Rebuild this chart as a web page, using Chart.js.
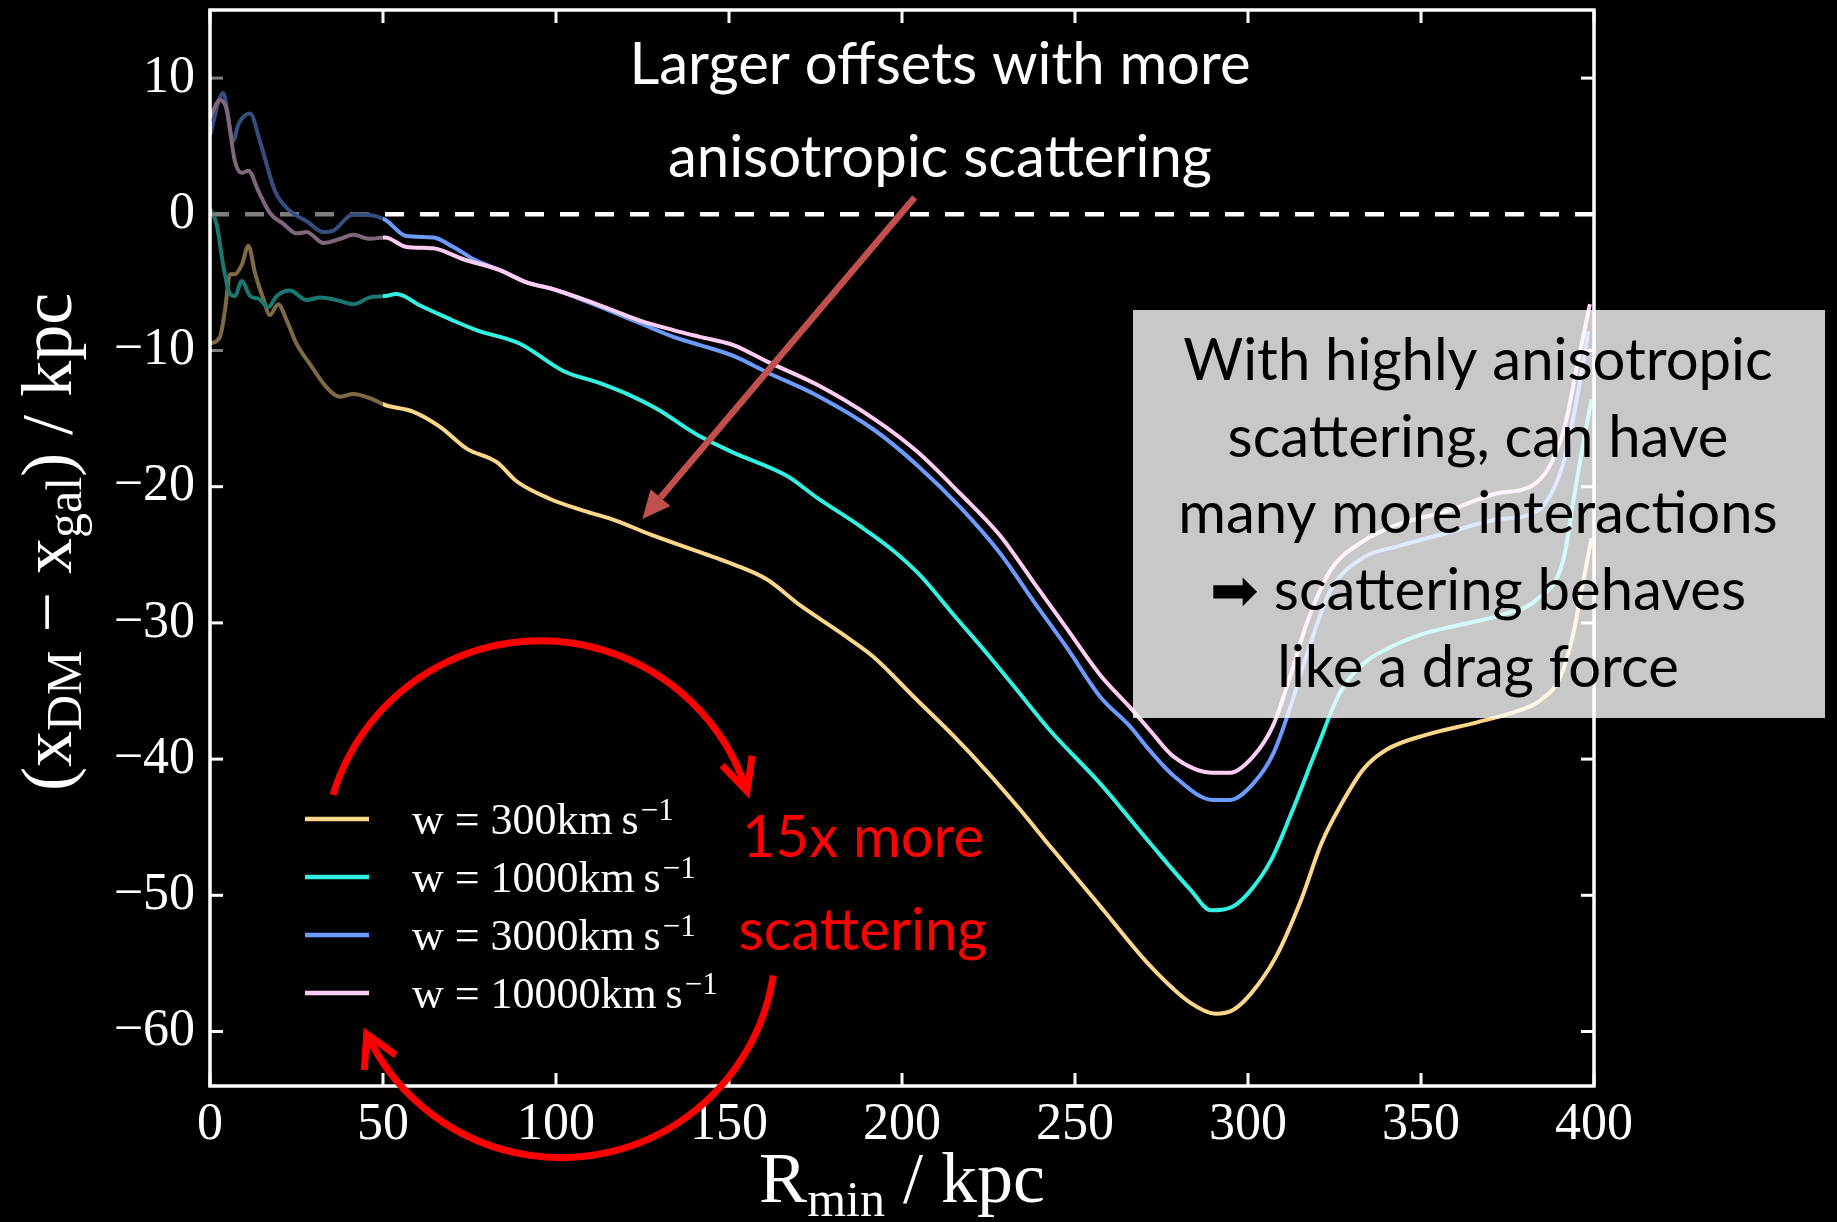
<!DOCTYPE html>
<html>
<head>
<meta charset="utf-8">
<script src="https://cdn.jsdelivr.net/npm/chart.js@4.4.1/dist/chart.umd.min.js"></script>
<style>
html,body{margin:0;padding:0;background:#000;}
canvas{display:block;}
</style>
</head>
<body>
<canvas id="c" width="1837" height="1222"></canvas>
<script>
// ---------------- data ----------------
const xTicks = [0, 50, 100, 150, 200, 250, 300, 350, 400];
const yTicks = [10, 0, -10, -20, -30, -40, -50, -60];
const zeroLevel = 0;

const seriesLabels = ['w = 300km\u2009s\u207B\u00B9', 'w = 1000km\u2009s\u207B\u00B9', 'w = 3000km\u2009s\u207B\u00B9', 'w = 10000km\u2009s\u207B\u00B9'];

const rMin300 = [0,2.9,4.3,5.8,7.2,9.2,11.1,13,15.4,17.3,19.7,22.2,25,28.9,33.7,37.6,41.4,46.2,50.6,58.8,66.5,74.2,82.9,88.6,98.3,107.9,117.5,127.2,141.6,151.3,160.9,170.5,182.1,191.8,203.3,214.9,224.5,234.1,242.8,257.3,271.8,283.4,290.7,295.8,300.9,308.1,315.4,321.2,327,333.5,340.1,351.7,366.2,380.8,384.4,390.2,394,396.9,399.3];
const off300 = [-9.5,-9.0,-7.1,-4.4,-4.4,-3.7,-2.3,-4.3,-6.2,-7.4,-6.6,-7.8,-9.5,-11,-12.7,-13.4,-13.2,-13.5,-14.0,-14.5,-15.6,-17.2,-18.2,-19.6,-20.9,-21.75,-22.5,-23.5,-24.8,-25.7,-26.8,-28.7,-30.7,-32.5,-35.4,-38.3,-40.9,-43.7,-46.4,-50.8,-55.2,-57.9,-58.7,-58.4,-57.2,-54.5,-50.3,-46.2,-43.3,-40.7,-39.3,-38.2,-37.3,-36.2,-35.7,-34.0,-30.8,-26.9,-23.8];

const rMin1000 = [0,1.9,3.8,5.8,7.2,9.2,11.6,14,16.9,19.3,23.1,27.9,31.8,36.6,41.4,46.2,50.6,54,60.7,69.4,77,89.6,102.1,112.7,122.4,130,137.7,141.6,151.3,166.7,175.4,187.9,197.5,205.2,214.9,225.4,236,242.8,257.3,271.8,283.4,289.3,295.8,300.9,306.7,312.5,319.8,326.6,333.3,341,350.6,362.1,374.7,383.4,391.1,394,396.9,399.3];
const off1000 = [0.4,-0.7,-3.7,-5.85,-6.0,-4.9,-6.0,-6.2,-6.8,-6.0,-5.6,-6.3,-6.1,-6.3,-6.6,-6.1,-6.0,-5.85,-6.7,-7.7,-8.5,-9.5,-11.5,-12.4,-13.4,-14.4,-15.7,-16.3,-17.5,-19.2,-20.8,-22.9,-24.7,-26.5,-29.4,-32.5,-35.8,-37.9,-41.8,-46.2,-49.6,-51.1,-50.8,-49.6,-47.4,-44.0,-39.3,-35.1,-33.0,-31.8,-30.8,-30.1,-29.3,-28.3,-25.4,-21.1,-16.8,-13.6];

const rMin3000 = [0,3.8,6.7,8.2,11.6,14.4,18.8,23.1,27.9,32.8,35.6,41.4,46.2,50.6,56.8,64.5,70.3,77,83.8,91.5,99.2,110.8,124.3,133.9,141.6,151.3,160.9,175.4,191.8,204.3,216.8,228.4,238,247.6,257.2,265.9,271.7,278.4,290,294.8,301.5,307.3,312.1,316.9,323.7,333.3,343,357.4,371.9,383.4,391.1,395,398.4];
const off3000 = [5.85,8.9,5.4,6.6,7.4,5.4,1.7,0.25,-0.5,-1.3,-1.2,0,-0.05,-0.4,-1.6,-1.7,-2.4,-3.4,-4.1,-5.0,-5.5,-6.6,-8.0,-9.0,-9.6,-10.4,-11.6,-13.3,-15.8,-18.4,-21.5,-24.9,-28.4,-31.8,-35.4,-37.6,-39.4,-41.2,-43.0,-43.0,-41.8,-39.6,-36.3,-32.4,-27.7,-25.2,-24.4,-23.4,-22.4,-21.8,-18.3,-13.6,-8.6];

const rMin10000 = [0,2.9,4.8,7.2,9.2,11.1,14,17.3,21.2,25,27.9,32.8,37.6,41.4,46.2,50.6,56.8,64.5,73.2,83.8,91.5,99.2,110.8,124.3,133.9,141.6,151.3,160.9,175.4,191.8,204.3,216.8,228.4,238,247.6,257.2,265.9,271.7,278.4,290,294.8,301.5,307.3,312.1,316.9,323.7,333.3,343,357.4,371.9,383.4,391.1,395,398.8];
const off10000 = [7.1,8.4,7.7,3.9,3.05,3.2,1.7,0.1,-0.7,-1.4,-1.3,-2.1,-1.8,-1.5,-1.8,-1.7,-2.4,-2.5,-3.3,-4.1,-5.0,-5.5,-6.5,-7.8,-8.5,-9.0,-9.6,-10.8,-12.5,-15.0,-17.4,-20.5,-23.6,-27.0,-30.4,-33.8,-36.2,-37.9,-39.8,-41.0,-41.0,-39.8,-37.5,-34.0,-30.1,-26.2,-24.0,-22.8,-21.8,-20.5,-19.7,-16.0,-11.3,-6.6];

// shaded (dimmed) early region, in data units
const dimX = [0, 50];
const dimY = [14, -15.5];

// ---------------- styles ----------------
const colors = ['#fcd68a', '#33f0e0', '#6b9bff', '#ffcdf4'];
const SERIF = "'Liberation Serif', 'Times New Roman', serif";
const SANS = "Lato, 'Open Sans', sans-serif";

function pts(xs, ys) { return xs.map((x, i) => ({x: x, y: ys[i]})); }
const fmt = v => (v < 0 ? '\u2212' + Math.abs(v) : String(v));

function line(ctx, x1, y1, x2, y2) { ctx.beginPath(); ctx.moveTo(x1, y1); ctx.lineTo(x2, y2); ctx.stroke(); }

function drawRich(ctx, segs, x, y, family) {
  let cx = x;
  segs.forEach(s => {
    ctx.font = s.size + 'px ' + family;
    ctx.fillText(s.t, cx, y + (s.dy || 0));
    cx += ctx.measureText(s.t).width;
  });
}
function richWidth(ctx, segs, family) {
  let w = 0;
  segs.forEach(s => { ctx.font = s.size + 'px ' + family; w += ctx.measureText(s.t).width; });
  return w;
}

const decor = {
  id: 'decor',
  beforeDatasetsDraw(chart) {
    const {ctx, chartArea: a, scales: {y}} = chart;
    const py = y.getPixelForValue(zeroLevel);
    ctx.save();
    ctx.strokeStyle = '#ffffff';
    ctx.lineWidth = 4.5;
    ctx.setLineDash([19, 16]);
    line(ctx, a.left, py, a.right, py);
    ctx.restore();
  },
  afterDatasetsDraw(chart) {
    const {ctx, chartArea: a, scales: {x, y}} = chart;
    ctx.save();
    // inward ticks on all four sides
    ctx.strokeStyle = '#ffffff';
    ctx.lineWidth = 3;
    const tl = 13;
    xTicks.forEach(v => {
      const px = x.getPixelForValue(v);
      line(ctx, px, a.bottom, px, a.bottom - tl);
      line(ctx, px, a.top, px, a.top + tl);
    });
    yTicks.forEach(v => {
      const py = y.getPixelForValue(v);
      line(ctx, a.left, py, a.left + tl, py);
      line(ctx, a.right, py, a.right - tl, py);
    });
    // dim overlay over early region
    const dx0 = x.getPixelForValue(dimX[0]) + 2, dx1 = x.getPixelForValue(dimX[1]);
    const dy0 = Math.max(y.getPixelForValue(dimY[0]), a.top + 2), dy1 = y.getPixelForValue(dimY[1]);
    ctx.fillStyle = 'rgba(0,0,0,0.5)';
    ctx.fillRect(dx0, dy0, dx1 - dx0, dy1 - dy0);
    // frame
    ctx.lineWidth = 3.5;
    ctx.strokeRect(a.left, a.top, a.right - a.left, a.bottom - a.top);
    ctx.restore();
  },
  afterDraw(chart) {
    const {ctx, chartArea: a} = chart;
    ctx.save();

    // axis titles
    ctx.fillStyle = '#ffffff';
    ctx.textBaseline = 'alphabetic';
    ctx.textAlign = 'left';
    const xt = [{t: 'R', size: 72}, {t: 'min', size: 50, dy: 14}, {t: ' / kpc', size: 72}];
    const xw = richWidth(ctx, xt, SERIF);
    drawRich(ctx, xt, (a.left + a.right) / 2 - xw / 2, 1202, SERIF);

    const yt = [{t: '(x', size: 72}, {t: 'DM', size: 50, dy: 10}, {t: ' \u2212 x', size: 72}, {t: 'gal', size: 50, dy: 10}, {t: ') / kpc', size: 72}];
    const yw = richWidth(ctx, yt, SERIF);
    ctx.save();
    ctx.translate(71, 542);
    ctx.rotate(-Math.PI / 2);
    drawRich(ctx, yt, -yw / 2, 0, SERIF);
    ctx.restore();

    // legend
    chart.data.datasets.forEach((ds, i) => {
      const ly = 819 + i * 58;
      ctx.strokeStyle = ds.borderColor;
      ctx.lineWidth = 4.5;
      line(ctx, 305, ly, 369, ly);
      const base = ds.label.replace('\u207B\u00B9', '');
      ctx.fillStyle = '#ffffff';
      ctx.font = '44px ' + SERIF;
      ctx.fillText(base, 412, ly + 15);
      const w = ctx.measureText(base).width;
      ctx.font = '31px ' + SERIF;
      ctx.fillText('\u22121', 412 + w + 2, ly + 1);
    });

    // translucent grey box
    ctx.fillStyle = 'rgba(255,255,255,0.785)';
    ctx.fillRect(1133, 310, 692, 408);
    ctx.fillStyle = '#000000';
    ctx.textAlign = 'center';
    ctx.font = '58px ' + SANS;
    const boxLines = ['With highly anisotropic', 'scattering, can have', 'many more interactions', '\u27A1 scattering behaves', 'like a drag force'];
    boxLines.forEach((t, i) => ctx.fillText(t, 1478, 380 + i * 76.7));

    // top white annotation
    ctx.fillStyle = '#ffffff';
    ctx.fillText('Larger offsets with more', 940, 84);
    ctx.fillText('anisotropic scattering', 940, 177);

    // dark-red arrow
    const sx = 914.7, sy = 197.3, ex = 642.4, ey = 519;
    const ang = Math.atan2(ey - sy, ex - sx);
    const hl = 28, hw = 13;
    const bx = ex - hl * Math.cos(ang), by = ey - hl * Math.sin(ang);
    ctx.strokeStyle = '#c0504d';
    ctx.fillStyle = '#c0504d';
    ctx.lineWidth = 6.5;
    line(ctx, sx, sy, bx, by);
    ctx.beginPath();
    ctx.moveTo(ex, ey);
    ctx.lineTo(bx + hw * Math.sin(ang), by - hw * Math.cos(ang));
    ctx.lineTo(bx - hw * Math.sin(ang), by + hw * Math.cos(ang));
    ctx.closePath();
    ctx.fill();

    // red curved arrows
    ctx.strokeStyle = '#ff0000';
    ctx.lineWidth = 7;
    ctx.lineJoin = 'miter';
    const deg = Math.PI / 180;
    function arcArrow(cx, cy, r, a0, a1, len, half) {
      ctx.beginPath();
      ctx.arc(cx, cy, r, a0, a1, false);
      ctx.stroke();
      const tx = cx + r * Math.cos(a1), ty = cy + r * Math.sin(a1);
      const back = a1 + Math.PI / 2 + Math.PI;
      ctx.beginPath();
      ctx.moveTo(tx + len * Math.cos(back - half), ty + len * Math.sin(back - half));
      ctx.lineTo(tx, ty);
      ctx.lineTo(tx + len * Math.cos(back + half), ty + len * Math.sin(back + half));
      ctx.stroke();
    }
    arcArrow(540.6, 857.6, 216.8, -163.2 * deg, -17.8 * deg, 36, 26 * deg);
    arcArrow(561.1, 943.0, 214.6, 8.7 * deg, 154.9 * deg, 36, 29 * deg);

    ctx.fillStyle = '#ff0000';
    ctx.font = '58px ' + SANS;
    ctx.fillText('15x more', 863, 857);
    ctx.fillText('scattering', 863, 950);

    ctx.restore();
  }
};

const datasets = [
  {label: seriesLabels[0], data: pts(rMin300, off300), borderColor: colors[0], order: 4},
  {label: seriesLabels[1], data: pts(rMin1000, off1000), borderColor: colors[1], order: 3},
  {label: seriesLabels[2], data: pts(rMin3000, off3000), borderColor: colors[2], order: 2},
  {label: seriesLabels[3], data: pts(rMin10000, off10000), borderColor: colors[3], order: 1}
].map(d => Object.assign(d, {borderWidth: 4, pointRadius: 0, fill: false, cubicInterpolationMode: 'monotone'}));

new Chart(document.getElementById('c'), {
  type: 'line',
  data: {datasets: datasets},
  options: {
    responsive: false,
    animation: false,
    devicePixelRatio: 1,
    layout: {padding: {left: 0, right: 243, top: 10, bottom: 0}},
    plugins: {legend: {display: false}, tooltip: {enabled: false}},
    scales: {
      x: {
        type: 'linear', min: 0, max: 400,
        grid: {display: false, drawTicks: false},
        border: {display: false},
        ticks: {color: '#ffffff', font: {family: SERIF, size: 52}, padding: 8, maxRotation: 0, autoSkip: false, callback: fmt},
        afterBuildTicks: s => { s.ticks = xTicks.map(v => ({value: v})); },
        afterFit: s => { s.height = 136; s.paddingLeft = 0; s.paddingRight = 0; }
      },
      y: {
        type: 'linear', min: -64, max: 15,
        grid: {display: false, drawTicks: false},
        border: {display: false},
        ticks: {color: '#ffffff', font: {family: SERIF, size: 52}, padding: 15, autoSkip: false, callback: fmt},
        afterBuildTicks: s => { s.ticks = yTicks.map(v => ({value: v})); },
        afterFit: s => { s.width = 210; s.paddingTop = 0; s.paddingBottom = 0; }
      }
    }
  },
  plugins: [decor]
});
</script>
</body>
</html>
